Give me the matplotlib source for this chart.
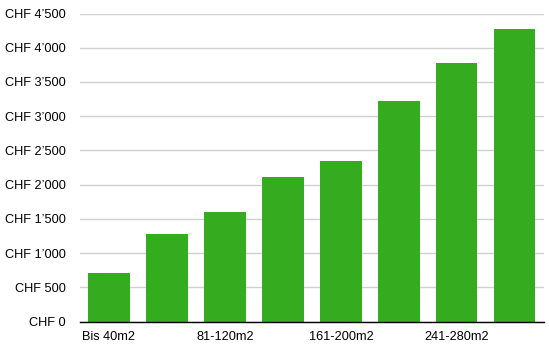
import matplotlib
matplotlib.use('Agg')

import matplotlib.pyplot as plt
from matplotlib.ticker import FuncFormatter

plt.rcParams['font.family'] = ['Liberation Sans', 'DejaVu Sans']

categories = ['Bis 40m2', '', '81-120m2', '', '161-200m2', '', '241-280m2', '']
values = [710, 1280, 1600, 2110, 2350, 3225, 3780, 4280]
y_ticks = [0, 500, 1000, 1500, 2000, 2500, 3000, 3500, 4000, 4500]

def chf(v, pos):
	n = int(v)
	if n >= 1000:
		return 'CHF ' + str(n // 1000) + '\u2019' + '%03d' % (n % 1000)
	return 'CHF ' + str(n)

fig = plt.figure(figsize=(5.49, 3.49), dpi=100)
ax = fig.add_axes([0.1457, 0.0782, 0.845, 0.8831])

x = range(len(values))
ax.bar(x, values, width=0.71, color='#35ac1f', zorder=2)

ax.set_xlim(-0.5, len(values) - 0.5)
ax.set_ylim(0, 4500)
ax.set_yticks(y_ticks)
ax.yaxis.set_major_formatter(FuncFormatter(chf))
ax.set_xticks(list(x))
ax.set_xticklabels(categories)

ax.grid(True, axis='y', color='#d0d0d0', linewidth=1, zorder=0)
for s in ['top', 'right', 'left']:
	ax.spines[s].set_visible(False)
ax.spines['bottom'].set_color('black')
ax.spines['bottom'].set_linewidth(1)
ax.spines['bottom'].set_zorder(3)
ax.tick_params(axis='y', length=0, pad=10, labelsize=9.2)
ax.tick_params(axis='x', length=0, pad=7, labelsize=9.2)

plt.savefig('out.png', dpi=100)
